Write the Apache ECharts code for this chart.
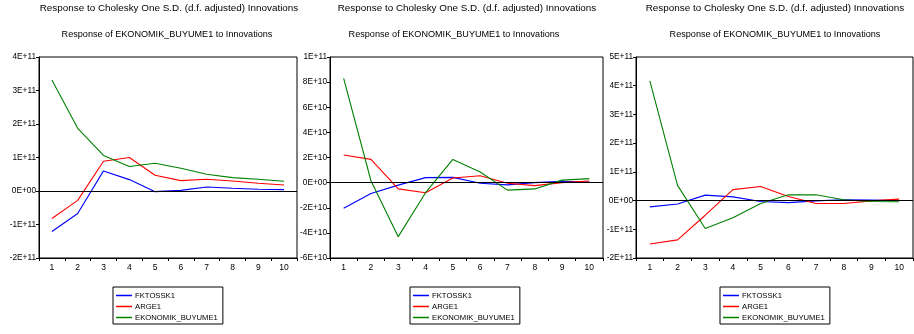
<!DOCTYPE html>
<html><head><meta charset="utf-8">
<script src="https://cdn.jsdelivr.net/npm/echarts@6/dist/echarts.min.js"></script>
<style>html,body{margin:0;padding:0;background:#fff}#c{width:914px;height:334px}</style>
</head><body><div id="c"></div>
<script>
const categories = ['1','2','3','4','5','6','7','8','9','10'];
const seriesNames = ['FKTOSSK1','ARGE1','EKONOMIK_BUYUME1'];
const mainTitle = 'Response to Cholesky One S.D. (d.f. adjusted) Innovations';
const subTitle = 'Response of EKONOMIK_BUYUME1 to Innovations';

// Panel 1
const p1_FKTOSSK1 = [-1.21e11,-0.67e11,0.60e11,0.34e11,-0.02e11,0.02e11,0.12e11,0.08e11,0.05e11,0.04e11];
const p1_ARGE1 = [-0.82e11,-0.28e11,0.89e11,1.00e11,0.47e11,0.31e11,0.35e11,0.30e11,0.23e11,0.18e11];
const p1_EKO = [3.31e11,1.87e11,1.06e11,0.73e11,0.83e11,0.68e11,0.50e11,0.40e11,0.35e11,0.29e11];
// Panel 2
const p2_FKTOSSK1 = [-2.04e10,-0.87e10,-0.2e10,0.4e10,0.42e10,-0.05e10,-0.18e10,0.0e10,0.1e10,0.05e10];
const p2_ARGE1 = [2.2e10,1.85e10,-0.5e10,-0.8e10,0.37e10,0.55e10,-0.05e10,-0.24e10,0.0e10,0.13e10];
const p2_EKO = [8.3e10,0.15e10,-4.3e10,-0.8e10,1.85e10,0.85e10,-0.6e10,-0.5e10,0.2e10,0.32e10];
// Panel 3
const p3_FKTOSSK1 = [-0.22e11,-0.12e11,0.19e11,0.13e11,-0.03e11,-0.07e11,-0.01e11,0.03e11,0.02e11,0.0e11];
const p3_ARGE1 = [-1.51e11,-1.37e11,-0.51e11,0.38e11,0.49e11,0.14e11,-0.1e11,-0.1e11,-0.01e11,0.05e11];
const p3_EKO = [4.17e11,0.53e11,-0.97e11,-0.6e11,-0.1e11,0.2e11,0.2e11,0.03e11,-0.03e11,-0.04e11];

const yMin = [-2e11,-6e10,-2e11];
const yMax = [4e11,1e11,5e11];
const yInterval = [1e11,2e10,1e11];

const panelData = [
  [p1_FKTOSSK1,p1_ARGE1,p1_EKO],
  [p2_FKTOSSK1,p2_ARGE1,p2_EKO],
  [p3_FKTOSSK1,p3_ARGE1,p3_EKO]
];
const colors = ['#0000ff','#ff0000','#008000'];
const FONT = 'Liberation Sans, Arial, sans-serif';

const grids = [
  {left:39,top:57,width:258,height:201},
  {left:330,top:57,width:273,height:201},
  {left:636,top:57,width:277,height:201}
];
const titleCenter = [169,467,775];
const subCenter = [167,454,775];
const legendLeft = [113,410,720];

function fmt(v){
  if (v === 0) return '0E+00';
  const e = Math.floor(Math.log10(Math.abs(v)) + 1e-9);
  const m = Math.round(v / Math.pow(10, e));
  return m + 'E+' + String(e).padStart(2,'0');
}

const option = {
  animation:false,
  color: colors,
  title: [], grid: [], xAxis: [], yAxis: [], legend: [], series: []
};
grids.forEach((g,i)=>{
  option.title.push({text:mainTitle,left:titleCenter[i],top:3,textAlign:'center',padding:0,
    textStyle:{fontFamily:FONT,fontSize:9.9,fontWeight:'normal',color:'#000'}});
  option.title.push({text:subTitle,left:subCenter[i],top:30,textAlign:'center',padding:0,
    textStyle:{fontFamily:FONT,fontSize:9.1,fontWeight:'normal',color:'#000'}});
  option.grid.push(Object.assign({show:true,borderColor:'#000',borderWidth:1,backgroundColor:'transparent'},g));
  option.xAxis.push({type:'category',gridIndex:i,data:categories,boundaryGap:true,
    axisLine:{onZero:false,lineStyle:{color:'#000',width:1}},
    axisTick:{show:true,length:3,lineStyle:{color:'#000'}},
    axisLabel:{fontFamily:FONT,fontSize:8.5,color:'#000',margin:5,interval:0},
    splitLine:{show:false}});
  option.yAxis.push({type:'value',gridIndex:i,min:yMin[i],max:yMax[i],interval:yInterval[i],
    axisLine:{show:true,lineStyle:{color:'#000',width:1}},
    axisTick:{show:true,length:3,lineStyle:{color:'#000'}},
    axisLabel:{fontFamily:FONT,fontSize:8.3,color:'#000',margin:3,formatter:fmt},
    splitLine:{show:false}});
  option.legend.push({left:legendLeft[i],top:287,orient:'vertical',data:seriesNames,
    borderColor:'#000',borderWidth:1,padding:[4,5,2,3],itemGap:2,itemWidth:16,itemHeight:1.5,icon:'rect',
    textStyle:{fontFamily:FONT,fontSize:7.7,color:'#000',lineHeight:9,padding:[0,0,0,-2]}});
  seriesNames.forEach((n,k)=>{
    const s = {name:n,type:'line',xAxisIndex:i,yAxisIndex:i,data:panelData[i][k],
      symbol:'none',lineStyle:{width:1.1,color:colors[k]},itemStyle:{color:colors[k]}};
    if(k===0){
      s.markLine = {silent:true,symbol:'none',label:{show:false},
        lineStyle:{color:'#000',width:1,type:'solid'},data:[{yAxis:0}]};
    }
    option.series.push(s);
  });
});
const chart = echarts.init(document.getElementById('c'),null,{renderer:'canvas'});
chart.setOption(option);
</script>
</body></html>
